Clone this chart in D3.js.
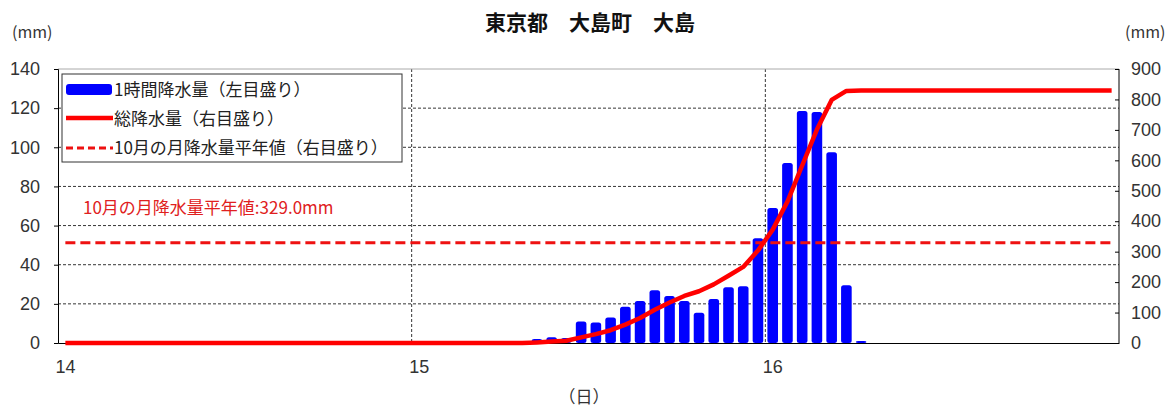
<!DOCTYPE html>
<html>
<head>
<meta charset="utf-8">
<script src="https://cdn.jsdelivr.net/npm/d3@7"></script>
<style>
  body { margin: 0; background: #fff; }
  text { font-family: "Noto Sans CJK JP", sans-serif; }
</style>
</head>
<body>
<div class="js-chart"></div>
<script>
// hourly rainfall (mm), one value per hour from 14th 01:00 to 17th 00:00
let hourly = [
  0, 0, 0, 0, 0, 0, 0, 0, 0, 0, 0, 0, 0, 0, 0, 0, 0, 0, 0, 0, 0, 0, 0, 0,
  0, 0, 0, 0, 0, 0, 0, 0, 2, 3, 2.5, 11, 10.5, 13, 18.5, 21.5, 27, 24, 21.5, 15.5, 22.5, 28.5, 29, 53.5,
  69, 92, 118.5, 118, 97.5, 29.5, 1, 0, 0, 0, 0, 0, 0, 0, 0, 0, 0, 0, 0, 0, 0, 0, 0, 0
];
let normalOct = 329.0;
let dayLabels = ["14", "15", "16"];
let leftTicks = [0, 20, 40, 60, 80, 100, 120, 140];
let rightTicks = [0, 100, 200, 300, 400, 500, 600, 700, 800, 900];

let total = Array.from(d3.cumsum(hourly));

let width = 1168, height = 410;
let mLeft = 58, mRight = 1119, mTop = 69, mBottom = 343;

let svg = d3.select(".js-chart").append("svg")
    .attr("width", width)
    .attr("height", height);

let x = d3.scaleLinear().domain([0, 72]).range([mLeft, mRight]);
let yL = d3.scaleLinear().domain([0, 140]).range([mBottom, mTop]);
let yR = d3.scaleLinear().domain([0, 900]).range([mBottom, mTop]);

// grid
svg.append("g")
    .selectAll("line")
    .data(leftTicks.slice(1, -1))
    .join("line")
    .attr("x1", mLeft).attr("x2", mRight)
    .attr("y1", d => yL(d)).attr("y2", d => yL(d))
    .attr("stroke", "#000").attr("stroke-width", 0.8)
    .attr("stroke-dasharray", "3,2");

svg.append("g")
    .selectAll("line")
    .data([24, 48])
    .join("line")
    .attr("x1", d => x(d)).attr("x2", d => x(d))
    .attr("y1", mTop).attr("y2", mBottom)
    .attr("stroke", "#000").attr("stroke-width", 0.8)
    .attr("stroke-dasharray", "3,2");

// frame
svg.append("line").attr("x1", mLeft).attr("x2", mRight).attr("y1", mTop).attr("y2", mTop)
    .attr("stroke", "#aaa");
svg.append("line").attr("x1", mRight).attr("x2", mRight).attr("y1", mTop).attr("y2", mBottom)
    .attr("stroke", "#000");

// axes
let axL = svg.append("g").attr("transform", "translate(" + mLeft + ",0)")
    .call(d3.axisLeft(yL).tickValues(leftTicks).tickSize(4).tickPadding(14));
let axR = svg.append("g").attr("transform", "translate(" + mRight + ",0)")
    .call(d3.axisRight(yR).tickValues(rightTicks).tickSize(4).tickPadding(8));
let axB = svg.append("g").attr("transform", "translate(0," + mBottom + ")")
    .call(d3.axisBottom(x).tickValues([0, 24, 48]).tickFormat((d, i) => dayLabels[i]).tickSize(0).tickPadding(17));

[axL, axR, axB].forEach(ax => {
    ax.select(".domain").attr("stroke", "#000");
    ax.selectAll("text").attr("font-size", 18).attr("fill", "#333")
        .style("font-family", "'Liberation Sans', sans-serif");
});
axR.select(".domain").remove();
axR.selectAll(".tick line").attr("x2", -4);
axB.selectAll("text").attr("text-anchor", "start").attr("dx", -3);

// bars
let step = x(1) - x(0);
let bw = step * 0.72;
svg.append("g")
    .selectAll("rect")
    .data(hourly.map((v, i) => ({i: i, v: v})).filter(d => d.v > 0))
    .join("rect")
    .attr("x", d => x(d.i + 0.5) - bw / 2)
    .attr("width", bw)
    .attr("y", d => yL(d.v))
    .attr("height", d => yL(0) - yL(d.v))
    .attr("rx", 2.5)
    .attr("fill", "#0000ff");

// normal line
svg.append("line")
    .attr("x1", x(0.5)).attr("x2", x(71.5))
    .attr("y1", yR(normalOct)).attr("y2", yR(normalOct))
    .attr("stroke", "#ee1111").attr("stroke-width", 3)
    .attr("stroke-dasharray", "10,5");

svg.append("text")
    .attr("x", 83).attr("y", 214)
    .attr("font-size", 17)
    .attr("fill", "#e02020")
    .text("10月の月降水量平年値:" + normalOct.toFixed(1) + "mm");

// total line
let line = d3.line().x((d, i) => x(i + 0.5)).y(d => yR(d));
svg.append("path")
    .attr("d", line(total))
    .attr("fill", "none")
    .attr("stroke", "#ff0000")
    .attr("stroke-width", 4.5)
    .attr("stroke-linejoin", "round");

// legend
let lg = svg.append("g");
lg.append("rect").attr("x", 62).attr("y", 74).attr("width", 340).attr("height", 88)
    .attr("fill", "#fff").attr("stroke", "#333").attr("stroke-width", 1);
lg.append("rect").attr("x", 66).attr("y", 84).attr("width", 46).attr("height", 11).attr("rx", 3)
    .attr("fill", "#0000ff");
lg.append("line").attr("x1", 66).attr("x2", 113).attr("y1", 118).attr("y2", 118)
    .attr("stroke", "#ff0000").attr("stroke-width", 4.5);
lg.append("line").attr("x1", 66).attr("x2", 113).attr("y1", 148).attr("y2", 148)
    .attr("stroke", "#ee1111").attr("stroke-width", 3).attr("stroke-dasharray", "7,4");
lg.selectAll("text.lab")
    .data(["1時間降水量(左目盛り)", "総降水量(右目盛り)", "10月の月降水量平年値(右目盛り)"])
    .join("text")
    .attr("class", "lab")
    .attr("x", 114)
    .attr("y", (d, i) => 96 + i * 29)
    .attr("font-size", 17)
    .attr("fill", "#222")
    .text(d => d.replace("(", "（").replace(")", "）"));

// titles
svg.append("text").attr("x", 590).attr("y", 30).attr("text-anchor", "middle")
    .attr("font-size", 21).attr("font-weight", "bold").attr("fill", "#111")
    .text("東京都　大島町　大島");
svg.append("text").attr("x", 12).attr("y", 38).attr("font-size", 16).attr("fill", "#333").text("(mm)");
svg.append("text").attr("x", 1125).attr("y", 38).attr("font-size", 16).attr("fill", "#333").text("(mm)");
svg.append("text").attr("x", 584).attr("y", 403).attr("text-anchor", "middle")
    .attr("font-size", 17).attr("fill", "#333").text("（日）");
</script>
</body>
</html>
